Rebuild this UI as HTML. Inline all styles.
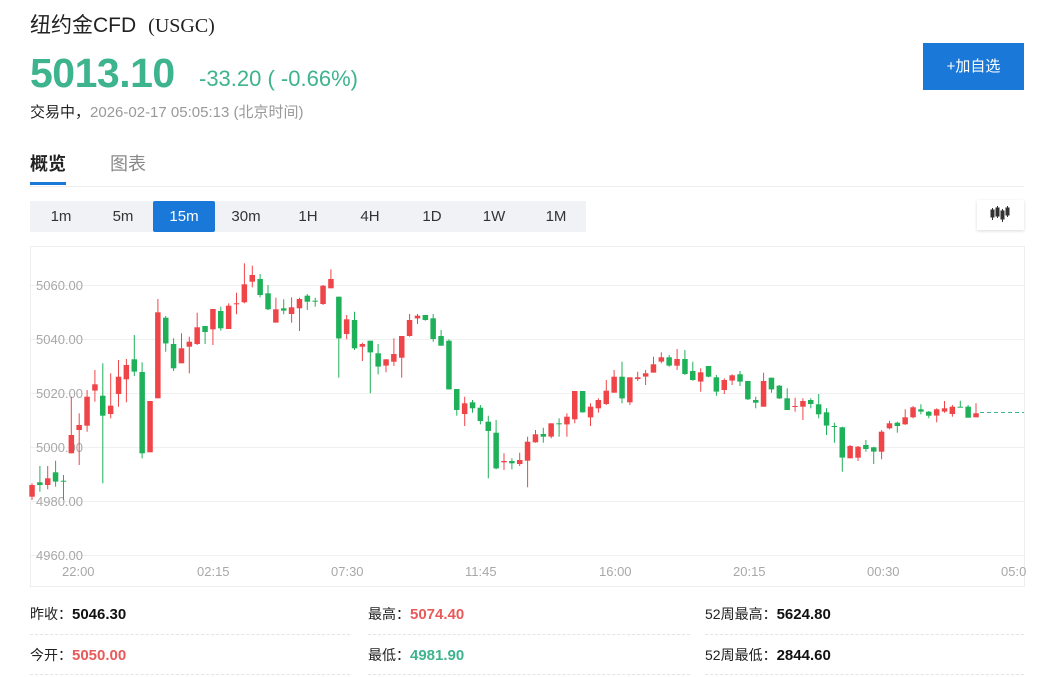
<!DOCTYPE html>
<html><head><meta charset="utf-8"><style>
*{margin:0;padding:0;box-sizing:border-box}
body{width:1054px;height:677px;background:#fff;font-family:"Liberation Sans","Noto Sans CJK SC",sans-serif;position:relative;overflow:hidden;color:#333}
.a{position:absolute;white-space:nowrap}
.tf{position:absolute;top:201px;height:31px;line-height:31px;text-align:center;font-size:15px;color:#333}
.lbl{font-size:14px;color:#222}
.val{font-weight:bold;font-size:15px}
.dl{position:absolute;height:0;border-top:1px dashed #e4e4e4}
</style></head><body>
<div class="a" style="left:30px;top:9px;font-size:21px;color:#222">纽约金CFD<span style="font-family:'Liberation Serif',serif;font-size:20px;margin-left:12px">(USGC)</span></div>
<div class="a" style="left:30px;top:50px;font-size:41px;font-weight:bold;color:#3db38e;letter-spacing:-0.5px">5013.10</div>
<div class="a" style="left:199px;top:66px;font-size:22px;color:#3db38e">-33.20 ( -0.66%)</div>
<div class="a" style="left:30px;top:101px;font-size:15px;color:#222">交易中，<span style="color:#999">2026-02-17 05:05:13 (北京时间)</span></div>
<div class="a" style="left:923px;top:43px;width:101px;height:47px;background:#1a78d8;color:#fff;font-size:15px;line-height:47px;text-align:center">+加自选</div>
<div class="a" style="left:30px;top:150px;font-size:18px;font-weight:bold;color:#222">概览</div>
<div class="a" style="left:110px;top:150px;font-size:18px;color:#888">图表</div>
<div class="a" style="left:30px;top:182px;width:36px;height:3px;background:#1a78d8"></div>
<div class="a" style="left:30px;top:186px;width:994px;height:1px;background:#eee"></div>
<div class="a" style="left:30px;top:201px;width:556px;height:31px;background:#f0f2f5"></div>
<div class="a" style="left:153px;top:201px;width:62px;height:31px;background:#1a78d8;border-radius:2px"></div>
<div class="tf" style="left:30px;width:62px">1m</div>
<div class="tf" style="left:92px;width:62px">5m</div>
<div class="tf" style="left:153px;width:62px;color:#fff">15m</div>
<div class="tf" style="left:215px;width:62px">30m</div>
<div class="tf" style="left:277px;width:62px">1H</div>
<div class="tf" style="left:339px;width:62px">4H</div>
<div class="tf" style="left:401px;width:62px">1D</div>
<div class="tf" style="left:463px;width:62px">1W</div>
<div class="tf" style="left:525px;width:62px">1M</div>
<div class="a" style="left:977px;top:200px;width:47px;height:30px;background:#fff;box-shadow:0 1px 3px rgba(0,0,0,.15)">
<svg width="47" height="30"><g fill="#333" stroke="#333" stroke-width="1"><line x1="15.5" y1="8" x2="15.5" y2="20"/><rect x="14" y="10" width="3" height="7"/><line x1="20.5" y1="6" x2="20.5" y2="18"/><rect x="19" y="8" width="3" height="8"/><line x1="25.5" y1="9" x2="25.5" y2="22"/><rect x="24" y="11" width="3" height="8"/><line x1="30.5" y1="6" x2="30.5" y2="17"/><rect x="29" y="8" width="3" height="7"/></g></svg></div>
<div class="a" style="left:30px;top:246px;width:995px;height:341px;border:1px solid #eee"></div>
<svg class="a" style="left:0;top:0" width="1054" height="600" id="ch">
<g stroke="#f0f0f0" stroke-width="1">
<line x1="31" y1="285.5" x2="1024" y2="285.5"/><line x1="31" y1="339.5" x2="1024" y2="339.5"/><line x1="31" y1="393.5" x2="1024" y2="393.5"/><line x1="31" y1="447.5" x2="1024" y2="447.5"/><line x1="31" y1="501.5" x2="1024" y2="501.5"/><line x1="31" y1="555.5" x2="1024" y2="555.5"/>
</g>
<g font-size="13" fill="#a8a8a8" font-family="Liberation Sans,sans-serif">
<text x="36" y="290">5060.00</text><text x="36" y="344">5040.00</text><text x="36" y="398">5020.00</text><text x="36" y="452">5000.00</text><text x="36" y="506">4980.00</text><text x="36" y="560">4960.00</text>
<text x="62" y="576">22:00</text><text x="197" y="576">02:15</text><text x="331" y="576">07:30</text><text x="465" y="576">11:45</text><text x="599" y="576">16:00</text><text x="733" y="576">20:15</text><text x="867" y="576">00:30</text><text x="1001" y="576">05:0</text>
</g>
<line x1="980" y1="412.5" x2="1024" y2="412.5" stroke="#3db38e" stroke-dasharray="4,3"/>
<g id="cd"></g>
</svg>
<div class="a lbl" style="left:30px;top:604px">昨收：<span class="val" style="color:#111">5046.30</span></div>
<div class="a lbl" style="left:368px;top:604px">最高：<span class="val" style="color:#e95a5a">5074.40</span></div>
<div class="a lbl" style="left:705px;top:604px">52周最高：<span class="val" style="color:#111">5624.80</span></div>
<div class="a lbl" style="left:30px;top:645px">今开：<span class="val" style="color:#e95a5a">5050.00</span></div>
<div class="a lbl" style="left:368px;top:645px">最低：<span class="val" style="color:#3db38e">4981.90</span></div>
<div class="a lbl" style="left:705px;top:645px">52周最低：<span class="val" style="color:#111">2844.60</span></div>
<div class="dl" style="left:30px;top:634px;width:320px"></div><div class="dl" style="left:368px;top:634px;width:322px"></div><div class="dl" style="left:705px;top:634px;width:319px"></div>
<div class="dl" style="left:30px;top:674px;width:320px"></div><div class="dl" style="left:368px;top:674px;width:322px"></div><div class="dl" style="left:705px;top:674px;width:319px"></div>
<script>
var A=[
[1,'r',705,740,700,750],[1,'g',697,705,648,725],[1,'r',685,705,648,718],[1,'g',667,695,632,710],[1,'g',692,694,675,750],
[1,'r',555,610,440,610],[1,'r',525,540,490,645],[1,'r',440,527,420,545],[1,'r',403,422,360,455],[1,'g',437,497,340,700],
[1,'r',467,492,370,505],[1,'r',380,432,330,470],[1,'r',345,388,327,457],[1,'g',328,365,255,378],[1,'g',366,610,337,625],
[1,'r',453,607,453,607],[1,'r',187,445,147,445],[1,'g',203,280,198,305],[1,'g',282,355,265,363],[1,'r',295,340,250,340],
[1,'r',275,290,260,370],[1,'r',232,282,188,285],[1,'g',228,246,228,282],[1,'r',177,238,177,285],[1,'g',183,235,170,242],
[1,'r',167,237,160,237],[1,'r',160,163,128,193],[1,'r',103,157,40,160],[1,'r',75,95,47,112],[1,'g',87,135,72,142],
[1,'g',130,178,105,180],[1,'r',178,218,143,218],[1,'g',175,182,148,193],[1,'r',172,192,142,218],[1,'r',147,175,143,243],
[1,'g',137,155,132,180],[1,'g',152,155,143,170],[1,'r',107,162,105,165],[1,'r',87,115,58,115],[1,'g',140,265,140,383],
[1,'r',208,252,195,268],[1,'g',210,295,185,300],[1,'r',282,290,278,333],[1,'g',272,307,272,430],[1,'g',310,350,282,373],
[1,'r',328,347,328,367],[1,'r',312,335,265,348],[1,'r',258,323,258,383],[1,'r',210,258,192,260],[1,'r',197,205,192,222],
[1,'g',195,210,195,212],[1,'g',205,267,192,275],[1,'g',258,287,240,287],
[2,'g',122,268,118,268],[2,'g',267,330,267,347],[2,'r',310,342,290,378],[2,'g',307,325,300,338],[2,'g',323,363,315,373],
[2,'g',365,393,347,535],[2,'g',398,505,360,508],[2,'r',483,487,460,510],[2,'g',483,490,475,508],[2,'r',480,492,458,498],
[2,'r',425,482,410,562],[2,'r',403,427,390,428],[2,'g',402,410,383,428],[2,'r',370,410,370,415],[2,'g',370,373,355,410],
[2,'r',350,373,340,410],[2,'r',273,358,273,370],[2,'g',273,337,273,338],[2,'r',320,352,310,378],[2,'r',300,325,295,338],
[2,'r',272,312,240,315],[2,'r',230,278,210,278],[2,'g',230,295,185,310],[2,'r',232,307,232,315],[2,'r',232,237,215,243],
[2,'r',220,230,210,255],[2,'r',193,218,170,218],[2,'r',172,185,157,190],[2,'g',172,197,165,200],[2,'r',177,197,147,210],
[2,'g',177,222,150,225],[2,'g',213,240,185,242],[2,'r',217,245,205,275],[2,'g',198,230,198,232],[2,'g',232,275,225,287],
[2,'r',240,270,235,282],[2,'r',226,242,223,255],[2,'g',223,245,213,258],[2,'g',243,298,243,300],[2,'g',300,308,290,325],
[2,'r',243,320,218,320],[2,'g',233,268,233,278],[2,'g',257,295,255,297],[2,'g',295,330,265,330],[2,'r',318,320,293,335],
[2,'r',303,320,295,360],[2,'g',300,312,295,325],[2,'g',313,343,282,355],[2,'g',337,377,325,405],[2,'g',378,380,368,428],
[2,'g',382,473,380,515],[2,'r',438,475,435,475],[2,'r',440,473,438,483],[2,'g',435,447,420,455],[2,'g',442,455,440,492],
[2,'r',395,455,390,478],[2,'r',370,385,362,388],[2,'g',368,378,365,398],[2,'r',352,373,328,375],[2,'r',322,352,318,355],
[2,'g',328,335,313,343],[2,'g',335,347,333,355],[2,'r',328,347,325,367],[2,'r',325,335,303,338],[2,'r',320,342,315,350],
[2,'g',320,322,302,322],[2,'g',320,353,315,353],[2,'r',340,352,310,352]];
var s='',N=A.length,step=(976-32)/(N-1);
for(var i=0;i<N;i++){var d=A[i],o=d[0]==1?250:300,c=d[1]=='r'?'#ef4548':'#1fb05a';
var x=32+i*step,bt=o+d[2]/3,bb=o+d[3]/3,wt=o+d[4]/3,wb=o+d[5]/3;var h=Math.max(1,bb-bt);
s+='<line x1="'+x.toFixed(1)+'" y1="'+wt.toFixed(1)+'" x2="'+x.toFixed(1)+'" y2="'+wb.toFixed(1)+'" stroke="'+c+'" stroke-width="1"/>';
s+='<rect x="'+(x-2.75).toFixed(1)+'" y="'+bt.toFixed(1)+'" width="5.5" height="'+h.toFixed(1)+'" fill="'+c+'"/>';}
document.getElementById('cd').innerHTML=s;
</script>
</body></html>
